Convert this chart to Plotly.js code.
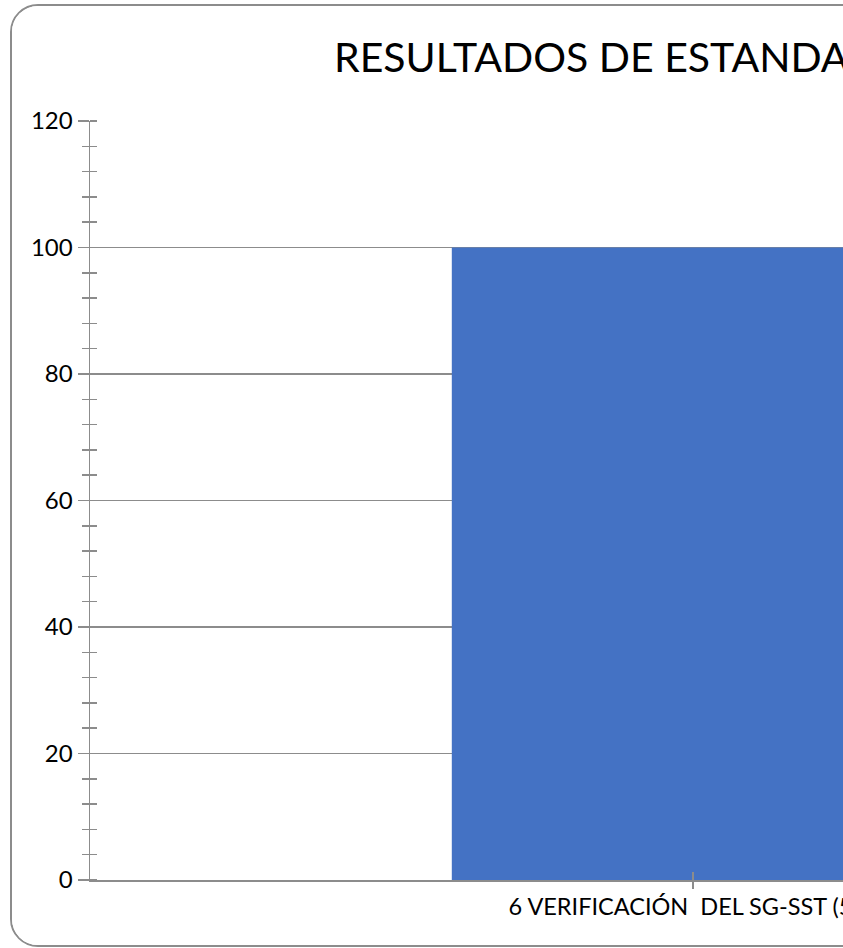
<!DOCTYPE html>
<html>
<head>
<meta charset="utf-8">
<script src="https://cdn.plot.ly/plotly-3.0.1.min.js"></script>
<style>
  html, body { margin: 0; padding: 0; overflow: hidden; background: #fff; width: 843px; height: 948px; }
  #frame { position: absolute; left: 10px; top: 4px; width: 1300px; height: 939px;
           border: 2px solid #8c8c8c; border-radius: 28px; overflow: hidden; background: #fff; }
  #chart { width: 1300px; height: 939px; }
</style>
</head>
<body>
<div id="frame"><div id="chart"></div></div>
<script>
const categories = ["6 VERIFICACIÓN\u00A0 DEL SG-SST (5%)"];
const values = [100];
const yTickVals = [0, 20, 40, 60, 80, 100, 120];
const chartTitle = "RESULTADOS DE ESTANDARES MINIMOS";

const W = 1300, H = 939;
const FONT = "Lato, 'Open Sans', sans-serif";
const GRAY = "#8c8c8c";

const traces = [{
  type: "bar",
  x: categories,
  y: values,
  marker: { color: "#4472C4", line: { width: 0 } },
  width: 0.4,
  hoverinfo: "skip"
}];

const layout = {
  width: W, height: H,
  margin: { l: 78, r: 16, t: 115, b: 65 },
  paper_bgcolor: "#fff",
  plot_bgcolor: "#fff",
  showlegend: false,
  font: { family: FONT, color: "#000" },
  title: {
    text: chartTitle,
    font: { family: FONT, size: 41, color: "#000" },
    xref: "container", x: 322 / W, xanchor: "left",
    yref: "container", y: 1 - 52 / H, yanchor: "middle"
  },
  xaxis: {
    type: "category",
    range: [-0.5, 0.5],
    showgrid: false,
    showline: true, linecolor: GRAY, linewidth: 1.5,
    ticks: "outside", ticklen: 7, tickcolor: GRAY, tickwidth: 1.5,
    ticklabelstandoff: -2,
    tickfont: { family: FONT, size: 23.5, color: "#000" },
    zeroline: false, fixedrange: true
  },
  xaxis2: {
    overlaying: "x", anchor: "y",
    type: "linear", range: [-0.5, 0.5],
    tickvals: [-0.5, 0],
    showticklabels: false, showgrid: false, zeroline: false, showline: false,
    ticks: "inside", ticklen: 8, tickcolor: GRAY, tickwidth: 1.5
  },
  yaxis: {
    range: [0, 120],
    tickvals: yTickVals,
    showgrid: true, gridcolor: GRAY, gridwidth: 1.5,
    showline: true, linecolor: GRAY, linewidth: 1.5,
    ticks: "outside", ticklen: 11, tickcolor: GRAY, tickwidth: 1.5,
    minor: { dtick: 4, tick0: 0, ticks: "outside", ticklen: 7, tickcolor: GRAY, tickwidth: 1.5, showgrid: false },
    tickfont: { family: FONT, size: 24, color: "#000" },
    zeroline: false, fixedrange: true
  },
  yaxis2: {
    overlaying: "y", anchor: "x",
    range: [0, 120],
    tickvals: yTickVals,
    showticklabels: false, showgrid: false, zeroline: false, showline: false,
    ticks: "",
    minor: { dtick: 4, tick0: 0, ticks: "inside", ticklen: 7, tickcolor: GRAY, tickwidth: 1.5, showgrid: false }
  }
};

traces.push({
  type: "scatter", x: [0], y: [0], xaxis: "x2", yaxis: "y2",
  mode: "markers", marker: { opacity: 0 }, hoverinfo: "skip"
});

Plotly.newPlot("chart", traces, layout, { staticPlot: true, displayModeBar: false });
</script>
</body>
</html>
